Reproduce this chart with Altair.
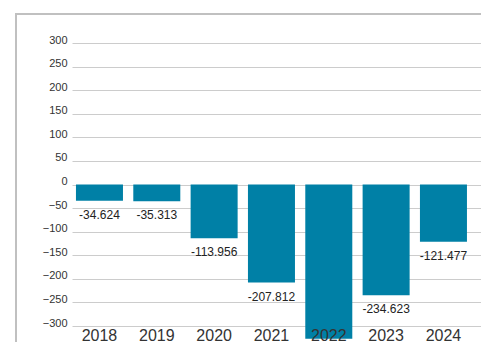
import altair as alt
import pandas as pd

years = ["2018", "2019", "2020", "2021", "2022", "2023", "2024"]
values = [-34.624, -35.313, -113.956, -207.812, -327.128, -234.623, -121.477]
labels = ["-34.624", "-35.313", "-113.956", "-207.812", "-327.128", "-234.623", "-121.477"]
y_ticks = [300, 250, 200, 150, 100, 50, 0, -50, -100, -150, -200, -250, -300]

df = pd.DataFrame({"year": years, "value": values, "label": labels})

FONT = "Liberation Sans"
W = 409

x_scale = alt.Scale(paddingInner=0.18, paddingOuter=0.157, align=0.22)
y_scale = alt.Scale(domain=[-300, 300], nice=False, zero=False)

x_axis = alt.Axis(title=None, labelAngle=0, labelFontSize=16, labelColor="#333333",
                  labelFont=FONT, domain=False, ticks=False, grid=False,
                  labelBaseline="alphabetic", labelPadding=14, zindex=1)
y_axis = alt.Axis(title=None, values=y_ticks, tickCount=13, labelFontSize=11, labelColor="#333333",
                  labelFont=FONT, domain=False, ticks=False, grid=True,
                  gridColor="#cccccc", gridWidth=1, labelPadding=5,
                  labelOverlap=False, labelBaseline="alphabetic", zindex=0)

base = alt.Chart(df)

bars = base.mark_bar(color="#0080a6").encode(
    x=alt.X("year:N", scale=x_scale, sort=years, axis=x_axis),
    y=alt.Y("value:Q", scale=y_scale, axis=y_axis),
    y2=alt.datum(0),
)

text = base.mark_text(fontSize=12, font=FONT, color="#222222", dy=14, baseline="middle").encode(
    x=alt.X("year:N", scale=x_scale, sort=years, axis=x_axis),
    y=alt.Y("value:Q", scale=y_scale, axis=y_axis),
    text="label:N",
)

frame_left = alt.Chart(pd.DataFrame({"a": [0]})).mark_rule(color="#c0c0c0", strokeWidth=2).encode(
    x=alt.value(-56), y=alt.value(-29), y2=alt.value(330)
)
frame_top = alt.Chart(pd.DataFrame({"a": [0]})).mark_rule(color="#c0c0c0", strokeWidth=2).encode(
    x=alt.value(-57), x2=alt.value(W + 10), y=alt.value(-29)
)

chart = alt.layer(frame_left, frame_top, bars, text).properties(
    width=W, height=283,
    autosize=alt.AutoSizeParams(type="none"),
    padding={"left": 64, "top": 35, "right": 0, "bottom": 16},
    background="#ffffff",
).configure_view(stroke=None)

chart.save("out.html", embed_options={"renderer": "svg", "actions": False})
